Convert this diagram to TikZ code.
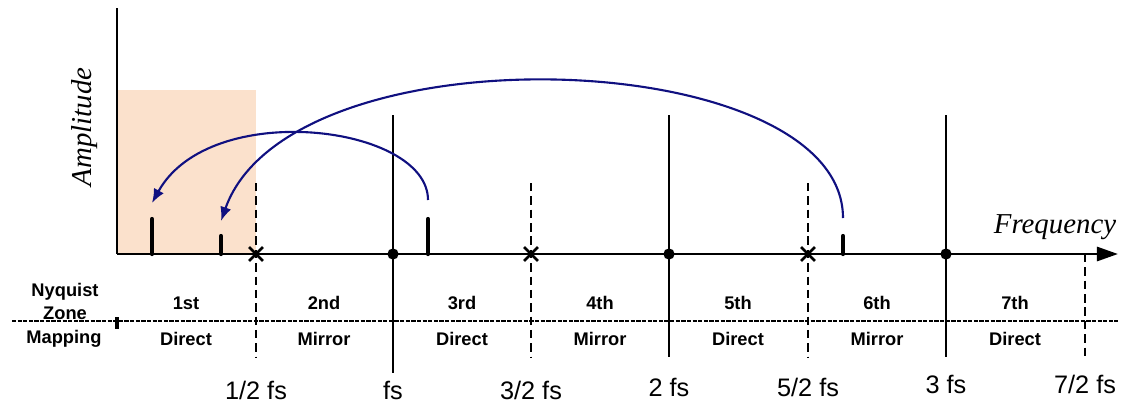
\documentclass[tikz,border=0pt]{standalone}
\usepackage{fontspec}
\setmainfont{Liberation Sans}
\newfontfamily\axisfont{Liberation Serif}
\usetikzlibrary{arrows.meta,shapes.misc}
\definecolor{zonefill}{RGB}{251,225,204}
\definecolor{foldblue}{RGB}{16,16,128}

\begin{document}
\begin{tikzpicture}[x=0.025cm,y=-0.025cm,
  edge/.style={line width=1.5pt},
  halfline/.style={line width=1.6pt,dash pattern=on 6pt off 3.5pt},
  tone/.style={line width=3pt,line cap=round},
  fold/.style={foldblue,line width=1.5pt,-{Latex[length=10pt,width=8pt]}},
  xmark/.style={draw,cross out,line width=1.8pt,minimum size=8pt,inner sep=0pt},
  zonelbl/.style={inner sep=0pt,font=\fontsize{13}{14}\selectfont\bfseries},
  fslbl/.style={inner sep=0pt,font=\fontsize{18}{20}\selectfont},
  axislbl/.style={inner sep=0pt,font=\axisfont\itshape\fontsize{20.5}{22}\selectfont}]
\useasboundingbox (0,0) rectangle (1122,403);

% first zone
\fill[zonefill] (117,90) rectangle (256,254);

\coordinate (origin) at (117,254);
\coordinate (ytop) at (117,8);
\coordinate (xend) at (1118,254);

% zone borders
\draw[halfline] (256,183) -- (256,357);
\draw[edge] (393,115) -- (393,373);
\draw[halfline] (531,183) -- (531,357);
\draw[edge] (669,115) -- (669,357);
\draw[halfline] (808,183) -- (808,357);
\draw[edge] (946,115) -- (946,357);
\draw[halfline] (1085,254) -- (1085,357);

% axes
\draw[line width=2pt] (ytop) -- (origin);
\draw[line width=2pt,-{Triangle[length=15pt,width=10pt]}] (origin) -- (xend);
\node[axislbl,rotate=90] (amp) at (85,127) {Amplitude};
\node[axislbl] (freq) at (1055,227) {Frequency};

% marks on the axis
\node[xmark] (halffs) at (256,254) {};
\node[xmark] (threehalffs) at (531,254) {};
\node[xmark] (fivehalffs) at (808,254) {};
\fill (393,254) circle (4pt);
\fill (669,254) circle (4pt);
\fill (946,254) circle (4pt);

% signals
\draw[tone] (152,219) -- (152,254);
\draw[tone] (221,236) -- (221,254);
\draw[tone] (428,219) -- (428,254);
\draw[tone] (843,236) -- (843,254);

\coordinate (srcA) at (428,200);
\coordinate (dstA) at (152,203);
\coordinate (srcB) at (843,218);
\coordinate (dstB) at (221,221);
\draw[fold] (srcA) .. controls (428,125) and (210,98) .. (dstA);
\draw[fold] (srcB) .. controls (843,45) and (290,25) .. (dstB);

% table
\draw[line width=1.2pt,dash pattern=on 3pt off 1pt] (12,321) -- (1118,321);
\draw[line width=2.5pt] (117,317) -- (117,329);
\node[zonelbl] (nyq) at (65,292) {Nyquist};
\node[zonelbl] (zone) at (65,313) {Zone};
\node[zonelbl] (map) at (64,339) {Mapping};

\node[zonelbl] (z1) at (186,303) {1st};
\node[zonelbl] (z2) at (324,303) {2nd};
\node[zonelbl] (z3) at (462,303) {3rd};
\node[zonelbl] (z4) at (600,303) {4th};
\node[zonelbl] (z5) at (738,303) {5th};
\node[zonelbl] (z6) at (877,303) {6th};
\node[zonelbl] (z7) at (1015,303) {7th};

\node[zonelbl] (m1) at (186,339) {Direct};
\node[zonelbl] (m2) at (324,339) {Mirror};
\node[zonelbl] (m3) at (462,339) {Direct};
\node[zonelbl] (m4) at (600,339) {Mirror};
\node[zonelbl] (m5) at (738,339) {Direct};
\node[zonelbl] (m6) at (877,339) {Mirror};
\node[zonelbl] (m7) at (1015,339) {Direct};

% frequencies
\node[fslbl] (f1) at (256,390) {1/2 fs};
\node[fslbl] (f2) at (393,390) {fs};
\node[fslbl] (f3) at (531,390) {3/2 fs};
\node[fslbl] (f4) at (669,387) {2 fs};
\node[fslbl] (f5) at (808,387) {5/2 fs};
\node[fslbl] (f6) at (946,384) {3 fs};
\node[fslbl] (f7) at (1085,384) {7/2 fs};
\end{tikzpicture}
\end{document}
